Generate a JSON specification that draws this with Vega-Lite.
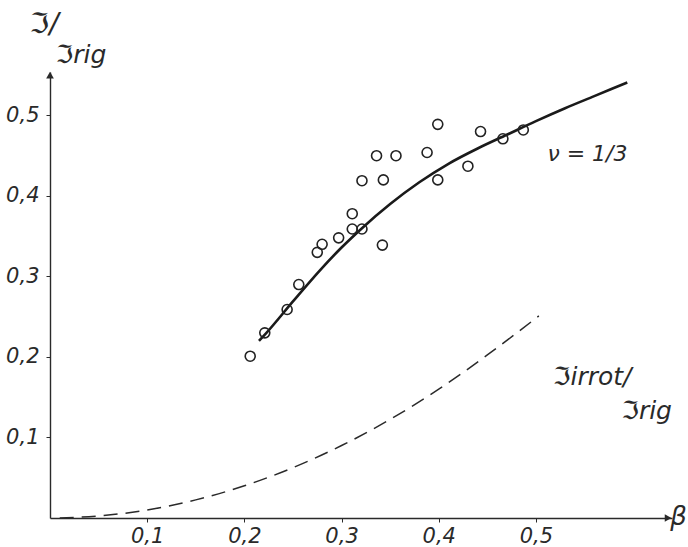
{
  "$schema": "https://vega.github.io/schema/vega-lite/v6.json",
  "width": 622,
  "height": 446,
  "autosize": "none",
  "padding": {"left": 50, "top": 72, "right": 16, "bottom": 29},
  "background": "white",
  "config": {
    "view": {"stroke": null},
    "font": "DejaVu Sans",
    "axis": {
      "grid": false,
      "domainColor": "#2a2a2a",
      "domainWidth": 1.4,
      "tickColor": "#2a2a2a",
      "tickWidth": 1,
      "tickSize": 4,
      "labelFont": "DejaVu Sans",
      "labelFontStyle": "italic",
      "labelFontSize": 21,
      "labelColor": "#2a2a2a",
      "titleFont": "DejaVu Sans",
      "titleFontStyle": "italic",
      "titleFontWeight": "normal",
      "titleColor": "#2a2a2a"
    }
  },
  "datasets": {
    "points": [
      {"beta": 0.206, "ratio": 0.201},
      {"beta": 0.221, "ratio": 0.230},
      {"beta": 0.244, "ratio": 0.259},
      {"beta": 0.256, "ratio": 0.290},
      {"beta": 0.275, "ratio": 0.330},
      {"beta": 0.280, "ratio": 0.340},
      {"beta": 0.297, "ratio": 0.348},
      {"beta": 0.311, "ratio": 0.378},
      {"beta": 0.311, "ratio": 0.359},
      {"beta": 0.321, "ratio": 0.359},
      {"beta": 0.321, "ratio": 0.419},
      {"beta": 0.336, "ratio": 0.450},
      {"beta": 0.342, "ratio": 0.339},
      {"beta": 0.343, "ratio": 0.420},
      {"beta": 0.356, "ratio": 0.450},
      {"beta": 0.388, "ratio": 0.454},
      {"beta": 0.399, "ratio": 0.420},
      {"beta": 0.399, "ratio": 0.489},
      {"beta": 0.430, "ratio": 0.437},
      {"beta": 0.443, "ratio": 0.480},
      {"beta": 0.466, "ratio": 0.471},
      {"beta": 0.487, "ratio": 0.482}
    ],
    "fit": [
      {"beta": 0.215, "ratio": 0.220},
      {"beta": 0.222, "ratio": 0.229},
      {"beta": 0.250, "ratio": 0.269},
      {"beta": 0.278, "ratio": 0.308},
      {"beta": 0.300, "ratio": 0.336},
      {"beta": 0.321, "ratio": 0.360},
      {"beta": 0.350, "ratio": 0.390},
      {"beta": 0.380, "ratio": 0.417},
      {"beta": 0.410, "ratio": 0.440},
      {"beta": 0.440, "ratio": 0.459},
      {"beta": 0.470, "ratio": 0.476},
      {"beta": 0.500, "ratio": 0.493},
      {"beta": 0.530, "ratio": 0.509},
      {"beta": 0.560, "ratio": 0.524},
      {"beta": 0.594, "ratio": 0.541}
    ],
    "irrot": [
      {"beta": 0.01, "ratio": 0.0001},
      {"beta": 0.05, "ratio": 0.0025},
      {"beta": 0.10, "ratio": 0.010},
      {"beta": 0.15, "ratio": 0.0225},
      {"beta": 0.20, "ratio": 0.040},
      {"beta": 0.25, "ratio": 0.0625},
      {"beta": 0.30, "ratio": 0.090},
      {"beta": 0.35, "ratio": 0.1225},
      {"beta": 0.40, "ratio": 0.160},
      {"beta": 0.45, "ratio": 0.2025},
      {"beta": 0.503, "ratio": 0.251}
    ],
    "arrows": [
      {"beta": 0, "ratio": 0.550, "shape": "triangle-up"},
      {"beta": 0.636, "ratio": 0, "shape": "triangle-right"}
    ],
    "notes": [
      {"beta": 0.553, "ratio": 0.452, "label": "ν = 1/3", "size": 22},
      {"beta": 0.558, "ratio": 0.175, "label": "ℑirrot/", "size": 25},
      {"beta": 0.614, "ratio": 0.133, "label": "ℑrig", "size": 25},
      {"beta": -0.006, "ratio": 0.612, "label": "ℑ/", "size": 28},
      {"beta": 0.032, "ratio": 0.575, "label": "ℑrig", "size": 25}
    ]
  },
  "layer": [
    {
      "data": {"name": "irrot"},
      "mark": {"type": "line", "color": "#2a2a2a", "strokeWidth": 1.5, "strokeDash": [14, 8], "interpolate": "monotone"},
      "encoding": {
        "x": {
          "field": "beta", "type": "quantitative",
          "scale": {"domain": [0, 0.64], "nice": false, "zero": true},
          "axis": {
            "values": [0.1, 0.2, 0.3, 0.4, 0.5],
            "labelExpr": "replace(format(datum.value, '.1f'), '.', ',')",
            "labelPadding": 3,
            "title": "β",
            "titleFontSize": 26,
            "titleX": 628,
            "titleY": -2,
            "titleAlign": "center",
            "titleBaseline": "middle",
            "titleAngle": 0
          }
        },
        "y": {
          "field": "ratio", "type": "quantitative",
          "scale": {"domain": [0, 0.554], "nice": false, "zero": true},
          "axis": {
            "values": [0.1, 0.2, 0.3, 0.4, 0.5],
            "labelExpr": "replace(format(datum.value, '.1f'), '.', ',')",
            "labelPadding": 7,
            "title": null
          }
        }
      }
    },
    {
      "data": {"name": "fit"},
      "mark": {"type": "line", "color": "#1a1a1a", "strokeWidth": 2.6, "interpolate": "monotone"},
      "encoding": {
        "x": {"field": "beta", "type": "quantitative"},
        "y": {"field": "ratio", "type": "quantitative"}
      }
    },
    {
      "data": {"name": "points"},
      "mark": {"type": "point", "shape": "circle", "filled": false, "color": "#222", "strokeWidth": 1.6, "size": 100, "opacity": 1},
      "encoding": {
        "x": {"field": "beta", "type": "quantitative"},
        "y": {"field": "ratio", "type": "quantitative"}
      }
    },
    {
      "data": {"name": "arrows"},
      "mark": {"type": "point", "filled": true, "color": "#2a2a2a", "size": 60, "opacity": 1, "clip": false},
      "encoding": {
        "x": {"field": "beta", "type": "quantitative"},
        "y": {"field": "ratio", "type": "quantitative"},
        "shape": {"field": "shape", "type": "nominal", "scale": null, "legend": null}
      }
    },
    {
      "data": {"name": "notes"},
      "mark": {"type": "text", "font": "DejaVu Sans", "fontStyle": "italic", "color": "#2a2a2a", "align": "center", "baseline": "middle", "clip": false},
      "encoding": {
        "x": {"field": "beta", "type": "quantitative"},
        "y": {"field": "ratio", "type": "quantitative"},
        "text": {"field": "label"},
        "size": {"field": "size", "type": "quantitative", "scale": null, "legend": null}
      }
    }
  ]
}
